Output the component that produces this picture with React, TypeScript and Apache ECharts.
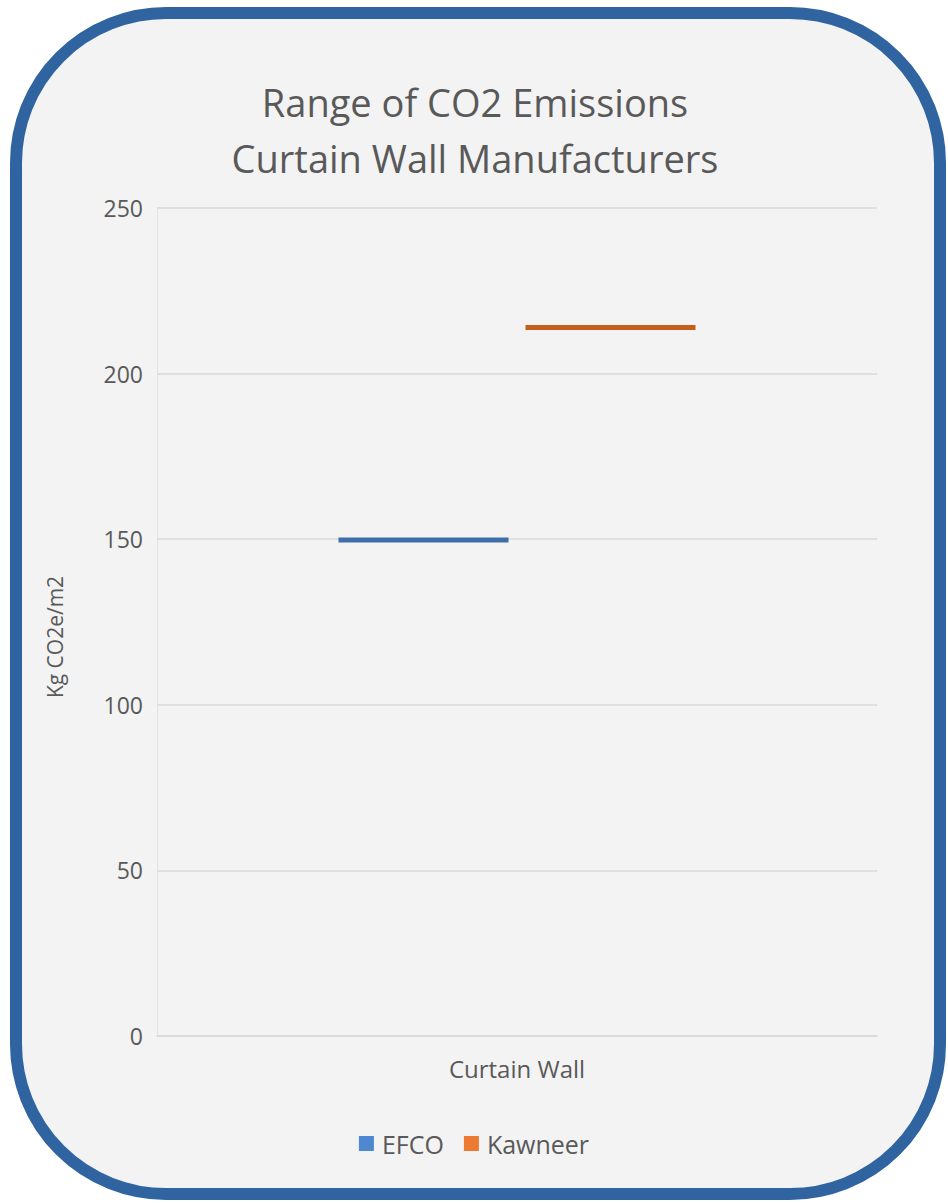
import React, { useEffect, useRef } from "react";
import * as echarts from "echarts";

const categories = ["Curtain Wall"];
const seriesNames = ["EFCO", "Kawneer"];
const efcoLow = [149.0];
const efcoHigh = [150.5];
const kawneerLow = [213.2];
const kawneerHigh = [214.7];
const yTicks = [0, 50, 100, 150, 200, 250];

export default function App() {
  const ref = useRef<HTMLDivElement>(null);
  useEffect(() => {
    document.body.style.margin = "0";
    const chart = echarts.init(ref.current!, null, { renderer: "svg" });
    const font = "'Open Sans', 'Liberation Sans', sans-serif";
    chart.setOption({
      animation: false,
      backgroundColor: "#ffffff",
      graphic: [
        {
          type: "rect",
          z: -100,
          shape: { x: 16, y: 13, width: 924, height: 1181, r: 150 },
          style: { fill: "#F3F3F3", stroke: "#2F64A0", lineWidth: 12 },
        },
      ],
      title: {
        text: "Range of CO2 Emissions\nCurtain Wall Manufacturers",
        left: 470,
        top: 69,
        textAlign: "center",
        textStyle: { fontFamily: font, fontSize: 38, fontWeight: "normal", color: "#595959", lineHeight: 56 },
      },
      legend: {
        data: [
          { name: "EFCO", itemStyle: { color: "#4F88D2" } },
          { name: "Kawneer", itemStyle: { color: "#EC7A30" } },
        ],
        top: 1126,
        left: "center",
        itemWidth: 15,
        itemHeight: 15,
        itemGap: 20,
        icon: "rect",
        textStyle: { fontFamily: font, fontSize: 25, color: "#595959", padding: [0, 0, 0, 3] },
      },
      grid: { left: 157, right: 71, top: 208, bottom: 167 },
      xAxis: {
        type: "category",
        data: categories,
        axisLine: { lineStyle: { color: "#D9D9D9", width: 1.5 } },
        axisTick: { show: false },
        axisLabel: { fontFamily: font, fontSize: 24, color: "#595959", margin: 20 },
      },
      yAxis: {
        type: "value",
        min: yTicks[0],
        max: yTicks[yTicks.length - 1],
        interval: 50,
        name: "Kg CO2e/m2",
        nameLocation: "middle",
        nameGap: 92,
        nameTextStyle: { fontFamily: font, fontSize: 21, color: "#595959", padding: [0, 30, 0, 0] },
        axisLine: { show: true, lineStyle: { color: "#E2E2E2" } },
        axisTick: { show: false },
        axisLabel: { fontFamily: font, fontSize: 23, color: "#595959", margin: 14 },
        splitLine: { lineStyle: { color: "#D9D9D9", width: 1.5 } },
      },
      series: [
        {
          name: "efcoBase",
          type: "bar",
          stack: "efco",
          barWidth: 170,
          barGap: "10%",
          data: efcoLow,
          itemStyle: { color: "transparent" },
          silent: true,
        },
        {
          name: seriesNames[0],
          type: "bar",
          stack: "efco",
          barWidth: 170,
          data: efcoHigh.map((v, i) => +(v - efcoLow[i]).toFixed(2)),
          itemStyle: { color: "#3E6EAA" },
        },
        {
          name: "kawneerBase",
          type: "bar",
          stack: "kawneer",
          barWidth: 170,
          barGap: "10%",
          data: kawneerLow,
          itemStyle: { color: "transparent" },
          silent: true,
        },
        {
          name: seriesNames[1],
          type: "bar",
          stack: "kawneer",
          barWidth: 170,
          data: kawneerHigh.map((v, i) => +(v - kawneerLow[i]).toFixed(2)),
          itemStyle: { color: "#C55E1A" },
        },
      ],
    });
    return () => chart.dispose();
  }, []);
  return <div ref={ref} style={{ width: 948, height: 1203 }} />;
}
